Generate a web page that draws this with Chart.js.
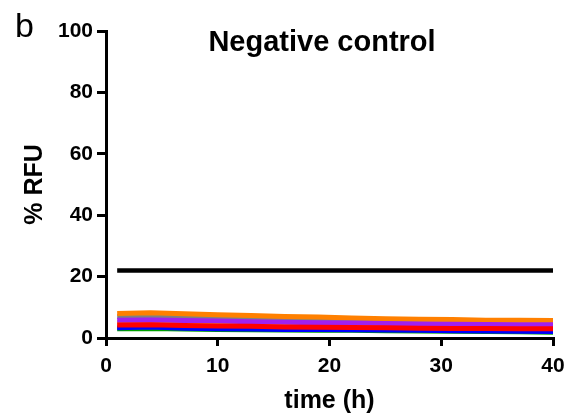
<!DOCTYPE html>
<html>
<head>
<meta charset="utf-8">
<script src="https://cdn.jsdelivr.net/npm/chart.js@4"></script>
<style>
  html, body { margin: 0; padding: 0; background: #fff; }
  canvas { display: block; }
</style>
</head>
<body>
<canvas id="myChart" width="576" height="419"></canvas>
<script>
// time points (h)
const hours = [1, 4, 7, 10, 13, 16, 19, 22, 25, 28, 31, 34, 37, 40];

// % RFU per well
const redVals    = [4.2, 4.3, 4.1, 3.9, 3.8, 3.6, 3.5, 3.4, 3.3, 3.2, 3.1, 3.1, 3.0, 3.0];
const purpleVals = [5.8, 5.9, 5.7, 5.5, 5.3, 5.1, 5.0, 4.9, 4.7, 4.6, 4.5, 4.4, 4.3, 4.3];
const orangeVals = [8.0, 8.2, 7.9, 7.6, 7.3, 7.0, 6.8, 6.5, 6.3, 6.1, 6.0, 5.8, 5.8, 5.7];
const yellowVals = [5.0, 5.1, 4.9, 4.8, 4.7, 4.6, 4.5, 4.4, 4.4, 4.5, 4.8, 5.1, 5.3, 5.4];
const grayVals   = [7.0, 6.9, 6.7, 6.5, 6.3, 6.1, 5.9, 5.7, 5.5, 5.4, 5.6, 5.3, 5.2, 5.1];
const blueVals   = [3.3, 3.6, 3.2, 3.0, 2.9, 2.8, 2.8, 2.7, 2.6, 2.5, 2.4, 2.3, 2.2, 2.1];
const greenVals  = [3.0, 3.1, 2.9, 2.8, 2.7, 2.6, 2.5, 2.5, 2.4, 2.3, 2.2, 2.1, 2.0, 1.9];

// threshold line
const thresholdHours = [1, 40];
const thresholdVals = [22, 22];

const FONT = '"Liberation Sans", Arial, sans-serif';

function series(vals, xs) {
    return xs.map((x, i) => ({x: x, y: vals[i]}));
}

function lineSet(vals, color, xs, width) {
    return {
        data: series(vals, xs || hours),
        borderColor: color,
        backgroundColor: color,
        borderWidth: width || 5,
        pointRadius: 0,
        tension: 0,
        fill: false
    };
}

// panel letter and title sit inside the plot like the original
const labelsPlugin = {
    id: 'panelLabels',
    afterDraw(chart) {
        const ctx = chart.ctx;
        ctx.save();
        ctx.fillStyle = '#000';
        ctx.textBaseline = 'alphabetic';
        ctx.textAlign = 'left';
        ctx.font = '34px ' + FONT;
        ctx.fillText('b', 15, 37);
        ctx.textAlign = 'center';
        ctx.font = 'bold 29px ' + FONT;
        ctx.fillText('Negative control', 322, 51);
        ctx.restore();
    }
};

document.addEventListener("DOMContentLoaded", function() {
    const ctx = document.getElementById('myChart').getContext('2d');
    new Chart(ctx, {
        type: 'line',
        data: {
            datasets: [
                lineSet(thresholdVals, '#000000', thresholdHours, 4.5),
                lineSet(redVals, '#FF0000'),
                lineSet(purpleVals, '#A020F0'),
                lineSet(orangeVals, '#FF8000'),
                lineSet(yellowVals, '#FFE000'),
                lineSet(grayVals, '#808080'),
                lineSet(blueVals, '#0000FF'),
                lineSet(greenVals, '#00A000')
            ]
        },
        options: {
            responsive: false,
            animation: false,
            layout: {padding: {left: 0, top: 31, right: 23, bottom: 0}},
            scales: {
                x: {
                    type: 'linear',
                    min: 0,
                    max: 40,
                    afterFit: function(scale) { scale.height = 81; },
                    border: {color: '#000', width: 3},
                    grid: {drawOnChartArea: false, color: '#000', lineWidth: 3, tickLength: 8},
                    ticks: {
                        stepSize: 10,
                        color: '#000',
                        padding: 8,
                        maxRotation: 0,
                        font: {family: FONT, weight: 'bold', size: 21}
                    },
                    title: {
                        display: true,
                        text: 'time (h)',
                        color: '#000',
                        padding: {top: 0, bottom: 3},
                        font: {family: FONT, weight: 'bold', size: 25}
                    }
                },
                y: {
                    min: 0,
                    max: 100,
                    afterFit: function(scale) { scale.width = 106; },
                    border: {color: '#000', width: 3},
                    grid: {drawOnChartArea: false, color: '#000', lineWidth: 3, tickLength: 9},
                    ticks: {
                        stepSize: 20,
                        color: '#000',
                        padding: 4,
                        font: {family: FONT, weight: 'bold', size: 21}
                    },
                    title: {
                        display: true,
                        text: '% RFU',
                        color: '#000',
                        padding: {top: 20, bottom: 0},
                        font: {family: FONT, weight: 'bold', size: 25}
                    }
                }
            },
            plugins: {
                legend: {display: false},
                title: {display: false},
                tooltip: {enabled: false}
            }
        },
        plugins: [labelsPlugin]
    });
});
</script>
</body>
</html>
